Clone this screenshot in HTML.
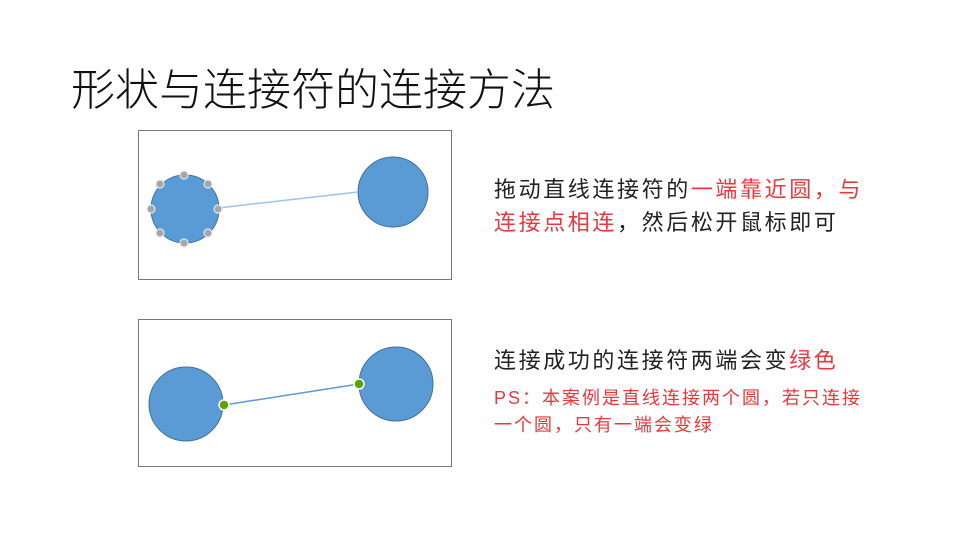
<!DOCTYPE html>
<html><head><meta charset="utf-8"><style>
body{margin:0;width:960px;height:540px;background:#fff;position:relative;overflow:hidden;font-family:"Liberation Sans","Noto Sans CJK SC",sans-serif;}
.t{position:absolute;white-space:nowrap;color:#222;}
.r{color:#e8383d;}
.b{font-size:22px;letter-spacing:2.6px;}
.s{font-size:18px;letter-spacing:2px;}
</style></head><body>
<div class="t" style="left:71px;top:54px;font-size:44px;color:#111;font-weight:300;">形状与连接符的连接方法</div>
<svg width="960" height="540" style="position:absolute;left:0;top:0">
<rect x="138.5" y="130.5" width="313" height="149" fill="none" stroke="#777" stroke-width="1"/>
<rect x="138.5" y="319.5" width="313" height="147" fill="none" stroke="#777" stroke-width="1"/>
<circle cx="185" cy="209" r="34" fill="#5b9bd5" stroke="#41719c" stroke-width="1"/>
<circle cx="393" cy="192" r="35" fill="#5b9bd5" stroke="#41719c" stroke-width="1"/>
<line x1="218" y1="208" x2="358" y2="192" stroke="#9dc3e6" stroke-width="1.5"/>
<g fill="#a6a6a6" stroke="#dde6f0" stroke-width="1.2">
<circle cx="184" cy="175" r="4"/><circle cx="160" cy="184" r="4"/><circle cx="208" cy="184" r="4"/>
<circle cx="151" cy="209" r="4"/><circle cx="218" cy="209" r="4"/>
<circle cx="160" cy="233" r="4"/><circle cx="208" cy="233" r="4"/><circle cx="184" cy="243" r="4"/>
</g>
<circle cx="186" cy="404" r="37" fill="#5b9bd5" stroke="#41719c" stroke-width="1"/>
<circle cx="396" cy="384" r="37" fill="#5b9bd5" stroke="#41719c" stroke-width="1"/>
<line x1="224" y1="405" x2="359" y2="384" stroke="#5b9bd5" stroke-width="1.5"/>
<circle cx="224" cy="405" r="5" fill="#5aa500" stroke="#fff" stroke-width="1.5"/>
<circle cx="359" cy="384" r="5" fill="#5aa500" stroke="#fff" stroke-width="1.5"/>
</svg>
<div class="t b" style="left:494px;top:172px;">拖动直线连接符的<span class="r">一端靠近圆，与</span></div>
<div class="t b" style="left:494px;top:205px;"><span class="r">连接点相连</span>，然后松开鼠标即可</div>
<div class="t b" style="left:494px;top:343px;">连接成功的连接符两端会变<span class="r">绿色</span></div>
<div class="t r s" style="left:494px;top:384px;">PS：本案例是直线连接两个圆，若只连接</div>
<div class="t r s" style="left:494px;top:411px;">一个圆，只有一端会变绿</div>
</body></html>
